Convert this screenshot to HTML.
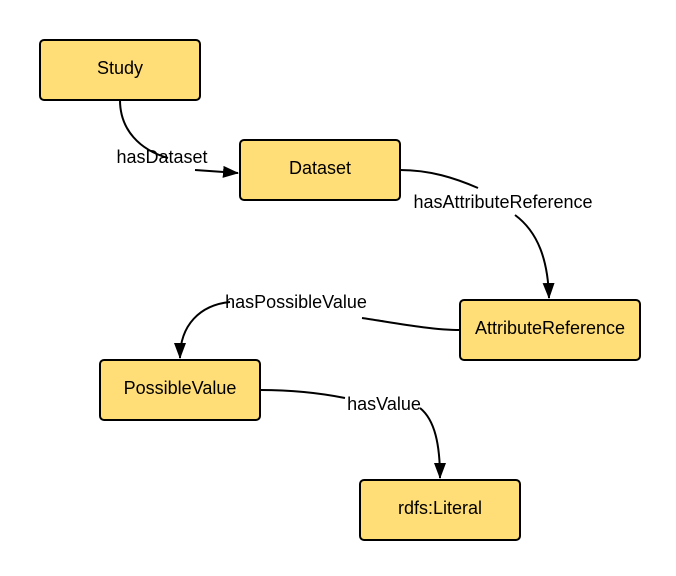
<!DOCTYPE html>
<html><head><style>body{margin:0;background:#fff}svg{display:block}</style></head><body>
<svg width="676" height="576" xmlns="http://www.w3.org/2000/svg" font-family="Liberation Sans, sans-serif">
<defs><marker id="a" markerWidth="16" markerHeight="12" refX="15" refY="6" orient="auto" markerUnits="userSpaceOnUse"><path d="M0,0L16,6L0,12Z" fill="#000"/></marker></defs>
<g fill="none" stroke="#000" stroke-width="2">
<path d="M120,100 C120,130 140,150 168,158 M195,170 C210,171 225,172 238,173" marker-end="url(#a)"/>
<path d="M400,170 C430,170 455,178 478,188 M515,215 C538,232 548,260 549,298" marker-end="url(#a)"/>
<path d="M460,330 C430,330 390,322 362,318 M230,302 C200,305 180,325 180,358" marker-end="url(#a)"/>
<path d="M260,390 C290,390 320,393 345,398 M420,408 C435,420 440,445 440,478" marker-end="url(#a)"/>
</g>
<g fill="#ffdd77" stroke="#000" stroke-width="2">
<rect x="40" y="40" width="160" height="60" rx="4"/>
<rect x="240" y="140" width="160" height="60" rx="4"/>
<rect x="460" y="300" width="180" height="60" rx="4"/>
<rect x="100" y="360" width="160" height="60" rx="4"/>
<rect x="360" y="480" width="160" height="60" rx="4"/>
</g>
<g font-size="18" text-anchor="middle" fill="#000">
<text x="120" y="74">Study</text>
<text x="320" y="174">Dataset</text>
<text x="550" y="334">AttributeReference</text>
<text x="180" y="394">PossibleValue</text>
<text x="440" y="514">rdfs:Literal</text>
<text x="162" y="163">hasDataset</text>
<text x="503" y="208">hasAttributeReference</text>
<text x="296" y="308">hasPossibleValue</text>
<text x="384" y="410">hasValue</text>
</g>
</svg>
</body></html>
